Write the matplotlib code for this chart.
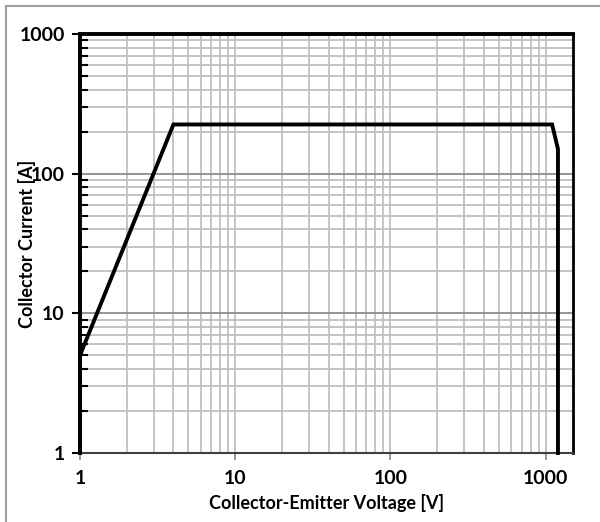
import matplotlib
matplotlib.use("Agg")
import matplotlib.pyplot as plt
from matplotlib.lines import Line2D
from matplotlib.ticker import LogLocator, FixedLocator, NullFormatter

# Safe operating area outline
vce = [1, 1, 4, 1100, 1200, 1200]
ic = [1, 5, 225, 225, 150, 1]

x_ticks = [1, 10, 100, 1000]
y_ticks = [1, 10, 100, 1000]

plt.rcParams["font.family"] = ["Lato", "DejaVu Sans"]
plt.rcParams["font.weight"] = "bold"

fig = plt.figure(figsize=(6, 5.22), dpi=100)
ax = fig.add_axes([0.1333, 0.1322, 0.8217, 0.8027])

ax.set_xscale("log")
ax.set_yscale("log")
ax.set_xlim(1, 1500)
ax.set_ylim(1, 1000)

ax.plot(vce, ic, color="black", linewidth=2.8, solid_joinstyle="miter", zorder=5, clip_on=False)

ax.xaxis.set_major_locator(FixedLocator(x_ticks))
ax.yaxis.set_major_locator(FixedLocator(y_ticks))
ax.xaxis.set_minor_locator(LogLocator(base=10, subs=range(2, 10), numticks=20))
ax.yaxis.set_minor_locator(LogLocator(base=10, subs=range(2, 10), numticks=20))
ax.xaxis.set_minor_formatter(NullFormatter())
ax.yaxis.set_minor_formatter(NullFormatter())
ax.set_xticklabels([str(v) for v in x_ticks])
ax.set_yticklabels([str(v) for v in y_ticks])

ax.grid(which="minor", axis="both", color="#bfbfbf", linewidth=1.3)
ax.grid(which="major", axis="x", color="#bfbfbf", linewidth=1.3)
ax.grid(which="major", axis="y", color="#8c8c8c", linewidth=1.3)
ax.set_axisbelow(True)

ax.tick_params(axis="x", which="major", direction="out", length=5, width=1.3,
               color="#8c8c8c", labelsize=14, pad=7)
ax.tick_params(axis="x", which="minor", length=0)
ax.tick_params(axis="y", which="major", direction="out", length=6, width=1.5,
               color="black", labelsize=14, pad=5)
ax.tick_params(axis="y", which="minor", direction="in", length=6, width=1.5, color="black")

for side in ["left", "top"]:
    ax.spines[side].set_linewidth(2.8)
    ax.spines[side].set_color("black")
ax.spines["right"].set_linewidth(2.0)
ax.spines["right"].set_color("black")
ax.spines["bottom"].set_linewidth(1.5)
ax.spines["bottom"].set_color("#404040")

ax.set_xlabel("Collector-Emitter Voltage [V]", fontsize=13, fontweight="bold", labelpad=5)
ax.set_ylabel("Collector Current [A]", fontsize=13, fontweight="bold")
ax.yaxis.set_label_coords(-0.09, 0.5)

# outer chart border
fig.add_artist(Line2D([0.01, 0.01], [0.0, 0.988], color="#a0a0a0", linewidth=1.5))
fig.add_artist(Line2D([0.01, 1.0], [0.988, 0.988], color="#a0a0a0", linewidth=1.5))

fig.savefig("out.png", dpi=100)
